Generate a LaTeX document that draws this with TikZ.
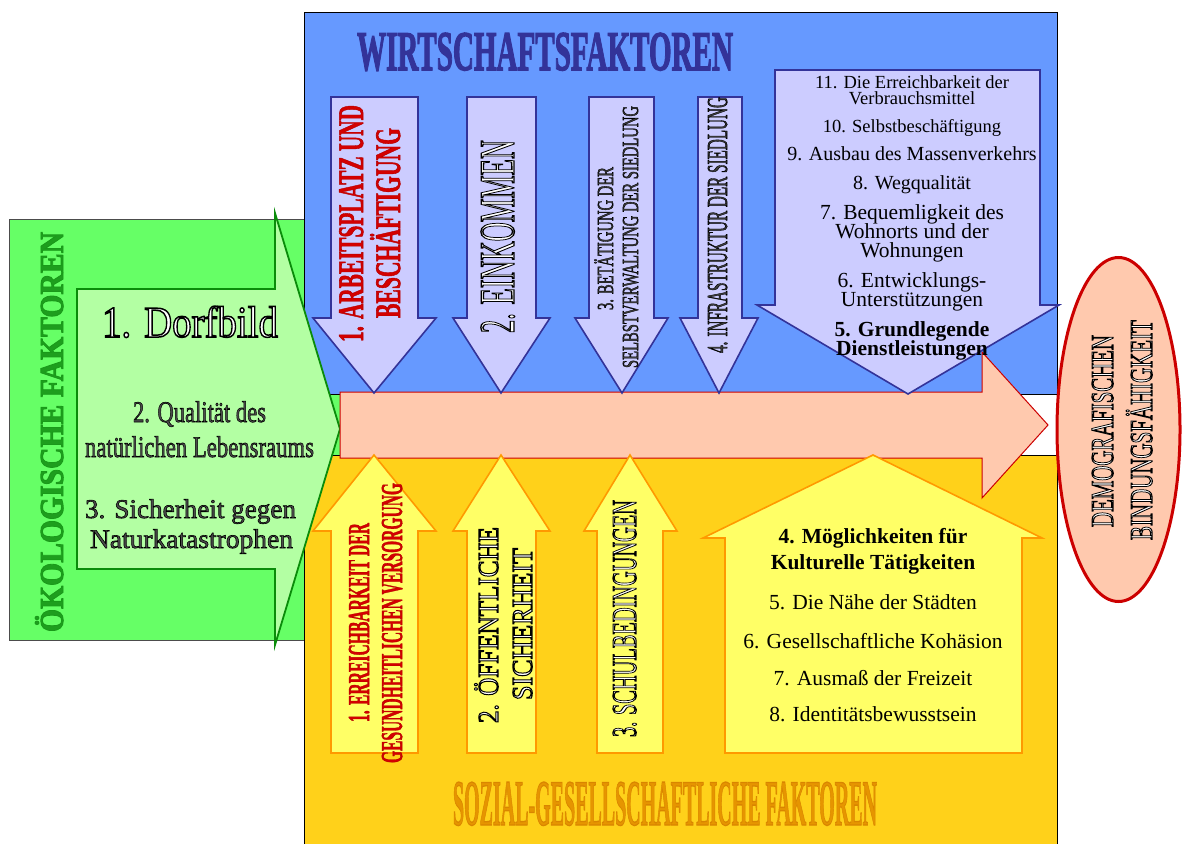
\documentclass[tikz,border=0pt]{standalone}
\usepackage{fontspec}
\setmainfont{Liberation Serif}
\usepackage{graphicx}
\usetikzlibrary{shapes.geometric}

\definecolor{ecogreen}{HTML}{66FF66}
\definecolor{ecolight}{HTML}{B3FFA3}
\definecolor{ecoline}{HTML}{0A8C0A}
\definecolor{ecotext}{HTML}{1E9E1E}
\definecolor{wiblue}{HTML}{6699FF}
\definecolor{wiarrow}{HTML}{CCCCFF}
\definecolor{wiline}{HTML}{333399}
\definecolor{soyellow}{HTML}{FFD11A}
\definecolor{soarrow}{HTML}{FFFF66}
\definecolor{soline}{HTML}{FF9900}
\definecolor{sotext}{HTML}{E69500}
\definecolor{salmonfill}{HTML}{FFC9AE}
\definecolor{redline}{HTML}{CC0000}
\definecolor{redtext}{HTML}{D40000}

% glyphs filled in the current colour and stroked in colour #1 (r g b) with width #2
\newcommand\stk[3]{{\special{pdf:literal direct #1 RG #2 w 2 Tr}#3\special{pdf:literal direct 0 Tr}}}
% stretch a line to a given width, keeping its height
\newcommand\fitw[2]{\resizebox{#1pt}{\height}{#2}}
% centred lines (separated by \cr) with a fixed baseline distance #1; baseline = last line
\newcommand\stack[2]{\vbox{\baselineskip=#1pt\lineskiplimit=-100pt\lineskip=0pt
  \halign{\hfil##\hfil\cr#2\crcr}}}

\begin{document}
\begin{tikzpicture}[x=1pt,y=-1pt,
  boxframe/.style={draw=black, line width=0.8pt},
  ecoarrow/.style={fill=ecolight, draw=ecoline, line width=1.8pt, line join=miter},
  wiarrowst/.style={fill=wiarrow, draw=wiline, line width=1.6pt, line join=miter},
  soarrowst/.style={fill=soarrow, draw=soline, line width=1.6pt, line join=miter},
  vtext/.style={rotate=90, anchor=base, inner sep=0pt},
  htext/.style={anchor=base, inner sep=0pt},
  fs/.style={font=\fontsize{#1}{#1}\selectfont},
  fsb/.style={font=\fontsize{#1}{#1}\selectfont\bfseries},
]
\useasboundingbox (0,0) rectangle (1182,843);
\clip (0,0) rectangle (1182,843);
\fill[white] (0,0) rectangle (1182,843);

% panels
\draw[fill=ecogreen, draw=black!70, line width=0.8pt] (9,219) rectangle (345,640);
\draw[fill=wiblue, boxframe] (304,12) rectangle (1057,394);
\draw[fill=soyellow, boxframe] (304,455) rectangle (1057,850);

% ecological arrow
\draw[ecoarrow] (77,289) -- (275,289) -- (275,213) -- (340,429) -- (275,645) -- (275,569) -- (77,569) -- cycle;

% central arrow
\draw[fill=salmonfill, draw=redline, line width=1pt, line join=miter]
  (340,392) -- (982,392) -- (982,352) -- (1048,425) -- (982,498) -- (982,458) -- (340,458) -- cycle;

% economic arrows
\draw[wiarrowst] (331,97) -- (418,97) -- (418,318) -- (436,318) -- (374,393) -- (313,318) -- (331,318) -- cycle;
\draw[wiarrowst] (467,97) -- (536,97) -- (536,318) -- (550,318) -- (501,393) -- (453,318) -- (467,318) -- cycle;
\draw[wiarrowst] (589,97) -- (654,97) -- (654,318) -- (668,318) -- (622,393) -- (575,318) -- (589,318) -- cycle;
\draw[wiarrowst] (698,97) -- (742,97) -- (742,318) -- (758,318) -- (719,393) -- (680,318) -- (698,318) -- cycle;
\draw[wiarrowst] (775,70) -- (1040,70) -- (1040,305) -- (1059,305) -- (908,394) -- (757,305) -- (775,305) -- cycle;

% social arrows
\draw[soarrowst] (331,753) -- (418,753) -- (418,531) -- (436,531) -- (374,455) -- (313,531) -- (331,531) -- cycle;
\draw[soarrowst] (467,753) -- (536,753) -- (536,531) -- (550,531) -- (501,455) -- (453,531) -- (467,531) -- cycle;
\draw[soarrowst] (597,753) -- (663,753) -- (663,531) -- (677,531) -- (630,455) -- (584,531) -- (597,531) -- cycle;
\draw[soarrowst] (725,753) -- (1022,753) -- (1022,538) -- (1042,538) -- (873,455) -- (703,538) -- (725,538) -- cycle;

% target
\node[ellipse, draw=redline, line width=3pt, fill=salmonfill, minimum width=123pt, minimum height=344pt, inner sep=0pt] (demo) at (1118.5,429.5) {};

% panel titles
\node[htext, fsb=56, text=wiline] (wtitle) at (545,70) {\stk{0.2 0.2 0.6}{1.5}{\fitw{376}{WIRTSCHAFTSFAKTOREN}}};
\node[htext, fsb=65, text=sotext] (stitle) at (665,825) {\stk{0.85 0.52 0}{1.3}{\fitw{424}{SOZIAL-GESELLSCHAFTLICHE FAKTOREN}}};
\node[vtext, fsb=33.6, text=ecotext] (etitle) at (63,432) {\stk{0.1 0.6 0.1}{0.9}{\fitw{400}{ÖKOLOGISCHE FAKTOREN}}};

% ecological factors
\node[htext, fs=44, text=white] (dorf) at (190,337) {\stk{0 0 0}{1.5}{\fitw{176}{1. Dorfbild}}};
\node[htext, fs=30, text=black!70] (qual1) at (199.5,422) {\stk{0 0 0}{0.6}{\fitw{133}{2. Qualität des}}};
\node[htext, fs=30, text=black!70] (qual2) at (199.5,457) {\stk{0 0 0}{0.6}{\fitw{229}{natürlichen Lebensraums}}};
\node[htext, fs=27, text=black!70] (sich1) at (190.5,518) {\stk{0 0 0}{0.6}{\fitw{211}{3. Sicherheit gegen}}};
\node[htext, fs=27, text=black!70] (sich2) at (191.5,548) {\stk{0 0 0}{0.6}{\fitw{203}{Naturkatastrophen}}};

% economic factors
\node[vtext, fsb=36, text=redtext] (arb1) at (363,223.5) {\stk{0.7 0 0}{0.6}{\fitw{237}{1. ARBEITSPLATZ UND}}};
\node[vtext, fsb=36, text=redtext] (arb2) at (400,223) {\stk{0.7 0 0}{0.6}{\fitw{190}{BESCHÄFTIGUNG}}};
\node[vtext, fs=50, text=white] (eink) at (514,236.5) {\stk{0 0 0}{1.4}{\fitw{193}{2. EINKOMMEN}}};
\node[vtext, fs=23, text=black!75] (bet1) at (613,238.5) {\stk{0 0 0}{0.5}{\fitw{143}{3. BETÄTIGUNG DER}}};
\node[vtext, fs=23, text=black!75] (bet2) at (638,237) {\stk{0 0 0}{0.5}{\fitw{262}{SELBSTVERWALTUNG DER SIEDLUNG}}};
\node[vtext, fs=29, text=black!75] (infra) at (727,225) {\stk{0 0 0}{0.6}{\fitw{256}{4. INFRASTRUKTUR DER SIEDLUNG}}};

\node[htext, fs=18.5] (w11) at (912,104) {\stack{16}{11. Die Erreichbarkeit der\cr Verbrauchsmittel}};
\node[htext, fs=18.5] (w10) at (912,132) {10. Selbstbeschäftigung};
\node[htext, fs=20] (w9) at (912,160) {9. Ausbau des Massenverkehrs};
\node[htext, fs=20] (w8) at (912,189) {8. Wegqualität};
\node[htext, fs=21.5] (w7) at (912,257) {\stack{19}{7. Bequemligkeit des\cr Wohnorts und der\cr Wohnungen}};
\node[htext, fs=21.5] (w6) at (912,306) {\stack{19}{6. Entwicklungs-\cr Unterstützungen}};
\node[htext, fsb=21.5] (w5) at (912,355) {\stack{19}{5. Grundlegende\cr Dienstleistungen}};

% social factors
\node[vtext, fsb=30.5, text=redtext] (err1) at (369,622.5) {\stk{0.7 0 0}{0.5}{\fitw{199}{1. ERREICHBARKEIT DER}}};
\node[vtext, fsb=30.5, text=redtext] (err2) at (402,623) {\stk{0.7 0 0}{0.5}{\fitw{280}{GESUNDHEITLICHEN VERSORGUNG}}};
\node[vtext, fs=29, text=white] (oef1) at (498,625) {\stk{0 0 0}{1.1}{\fitw{196}{2. ÖFFENTLICHE}}};
\node[vtext, fs=29, text=white] (oef2) at (532,624) {\stk{0 0 0}{1.1}{\fitw{152}{SICHERHEIT}}};
\node[vtext, fs=35, text=white] (schul) at (636,618.5) {\stk{0 0 0}{1.1}{\fitw{237}{3. SCHULBEDINGUNGEN}}};

\node[htext, fsb=21.5] (s4) at (873,569) {\stack{26}{4. Möglichkeiten für\cr Kulturelle Tätigkeiten}};
\node[htext, fs=21.5] (s5) at (873,609) {5. Die Nähe der Städten};
\node[htext, fs=21.5] (s6) at (873,648) {6. Gesellschaftliche Kohäsion};
\node[htext, fs=21.5] (s7) at (873,685) {7. Ausmaß der Freizeit};
\node[htext, fs=21.5] (s8) at (873,721) {8. Identitätsbewusstsein};

% outcome
\node[vtext, fs=32, text=white] (demo1) at (1113,431) {\stk{0 0 0}{1.1}{\fitw{192}{DEMOGRAFISCHEN}}};
\node[vtext, fs=32, text=white] (demo2) at (1152,430) {\stk{0 0 0}{1.1}{\fitw{220}{BINDUNGSFÄHIGKEIT}}};
\end{tikzpicture}
\end{document}
